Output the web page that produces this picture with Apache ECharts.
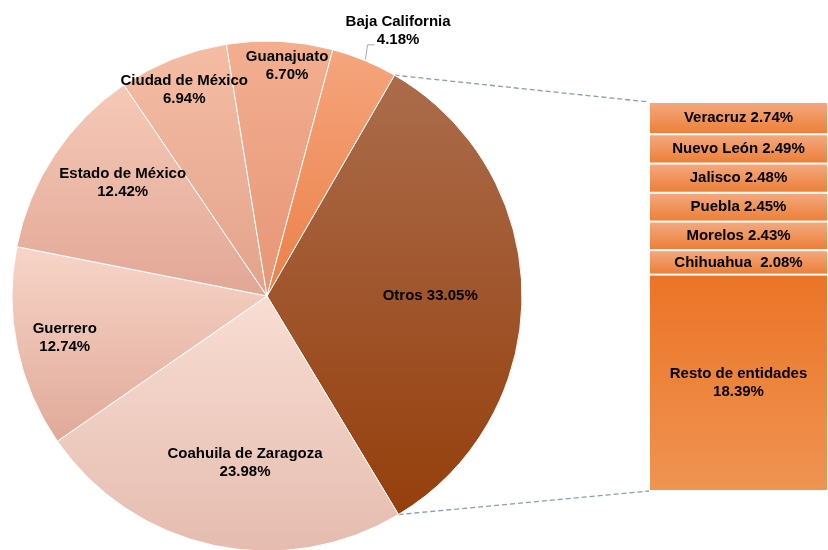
<!DOCTYPE html>
<html>
<head>
<meta charset="utf-8">
<style>
  html, body { margin: 0; padding: 0; background: #fff; }
  #chart { width: 828px; height: 550px; }
</style>
<script src="https://cdn.jsdelivr.net/npm/echarts@6/dist/echarts.min.js"></script>
</head>
<body>
<div id="chart"></div>
<script>
// pie: share by entity (%)
const pieNames = ['Otros', 'Coahuila de Zaragoza', 'Guerrero', 'Estado de México', 'Ciudad de México', 'Guanajuato', 'Baja California']
const pieValues = [33.05, 23.98, 12.74, 12.42, 6.94, 6.70, 4.18]

// bar: breakdown of "Otros" (%)
const barNames = ['Veracruz', 'Nuevo León', 'Jalisco', 'Puebla', 'Morelos', 'Chihuahua ', 'Resto de entidades']
const barValues = [2.74, 2.49, 2.48, 2.45, 2.43, 2.08, 18.39]

// slice colours, [top, bottom] of each gradient
const pieColors = [
  ['#ab6c4c', '#953f0c'],
  ['#f9ddd3', '#e5bcaf'],
  ['#f7d5c8', '#e0a999'],
  ['#f6c9b7', '#e2a796'],
  ['#f5bca4', '#e3a38b'],
  ['#f3ae90', '#e69677'],
  ['#f5a57d', '#ec8048']
]
const barColors = [
  ['#f3aa80', '#ec7e36'], ['#f3aa80', '#ec7e36'], ['#f3aa80', '#ec7e36'],
  ['#f3aa80', '#ec7e36'], ['#f3aa80', '#ec7e36'], ['#f3aa80', '#ec7e36'],
  ['#eb7427', '#ef9452']
]
// label placement: [fraction of radius, clockwise angle from 12 o'clock]
const pieLabelPolar = [[0.64, 90], [0.66, 187.5], [0.81, 258.3], [0.72, 308.2], [0.87, 338.1], [0.905, 5], [1.16, 26.3]]

const CX = 267
const CY = 296
const R = 255
const START = 30 // degrees clockwise from top where "Otros" starts

const FONT = {
  fontFamily: 'Liberation Sans, Arial, sans-serif',
  fontWeight: 'bold',
  fontSize: 15,
  lineHeight: 18,
  color: '#000'
}

const grad = (c) => new echarts.graphic.LinearGradient(0, 0, 0, 1, [
  { offset: 0, color: c[0] },
  { offset: 1, color: c[1] }
])

const total = pieValues.reduce((a, b) => a + b, 0)
// cumulative start angle (deg, clockwise from top) of every slice
const sliceStart = []
pieValues.reduce((acc, v, i) => { sliceStart[i] = acc; return acc + v / total * 360 }, START)

const chart = echarts.init(document.getElementById('chart'))

const pieData = pieNames.map((n, i) => {
  const item = {
    name: n,
    value: pieValues[i],
    itemStyle: { color: grad(pieColors[i]) }
  }
  if (n === 'Baja California') {
    item.label = { position: 'outside' }
    item.labelLine = {
      show: true,
      length: 10,
      length2: 4,
      lineStyle: { color: '#a5abb3', width: 1 }
    }
  }
  return item
})

const barSeries = barNames.map((n, i) => ({
  name: n,
  type: 'bar',
  stack: 'otros',
  barWidth: '100%',
  data: [barValues[i]],
  itemStyle: {
    color: grad(barColors[i]),
    borderColor: '#fff',
    borderWidth: 1
  },
  label: Object.assign({
    show: true,
    position: 'inside',
    formatter: () => n + (n.length > 12 ? '\n' : ' ') + barValues[i].toFixed(2) + '%'
  }, FONT)
}))

const barTotal = barValues.reduce((a, b) => a + b, 0)

let option = {
  animation: false,
  grid: {
    left: 649,
    top: 102,
    width: 184,
    height: 389
  },
  xAxis: {
    type: 'category',
    data: ['Otros'],
    show: false
  },
  yAxis: {
    type: 'value',
    min: 0,
    max: barTotal,
    inverse: true,
    show: false
  },
  series: [{
    type: 'pie',
    center: [CX, CY],
    radius: R,
    startAngle: 90 - START,
    clockwise: true,
    avoidLabelOverlap: false,
    data: pieData,
    itemStyle: {
      borderColor: '#fff',
      borderWidth: 1
    },
    label: Object.assign({
      show: true,
      position: 'inside',
      formatter: (p) => p.name + (p.name === 'Otros' ? ' ' : '\n') + p.value.toFixed(2) + '%'
    }, FONT),
    labelLine: { show: false },
    labelLayout: (params) => {
      const i = params.dataIndex
      const [f, a] = pieLabelPolar[i]
      const rad = a * Math.PI / 180
      const x = CX + f * R * Math.sin(rad)
      const y = CY - f * R * Math.cos(rad)
      const out = { x: x, y: y, align: 'center', verticalAlign: 'middle' }
      if (f > 1) {
        // elbow leader line from the slice edge to the label
        const mid = (sliceStart[i] + pieValues[i] / total * 180) * Math.PI / 180
        const px = CX + R * Math.sin(mid)
        const py = CY - R * Math.cos(mid)
        const ly = y + params.labelRect.height / 2 - 4
        out.labelLinePoints = [[px + 1, py - 1], [px + 3, ly], [px + 10, ly]]
      }
      return out
    }
  }].concat(barSeries)
}

chart.setOption(option)

// dashed connectors from the "Otros" slice to the bar
const a0 = START * Math.PI / 180
const a1 = (START + pieValues[0] / total * 360) * Math.PI / 180
const rect = chart.getModel().getComponent('grid', 0).coordinateSystem.getRect()
const lineStyle = { stroke: '#8a9bb3', lineWidth: 1.3, lineDash: [5, 3] }

chart.setOption({
  graphic: [{
    type: 'line',
    shape: {
      x1: CX + R * Math.sin(a0), y1: CY - R * Math.cos(a0),
      x2: rect.x, y2: rect.y
    },
    style: lineStyle
  }, {
    type: 'line',
    shape: {
      x1: CX + R * Math.sin(a1), y1: CY - R * Math.cos(a1),
      x2: rect.x, y2: rect.y + rect.height
    },
    style: lineStyle
  }]
})
</script>
</body>
</html>
